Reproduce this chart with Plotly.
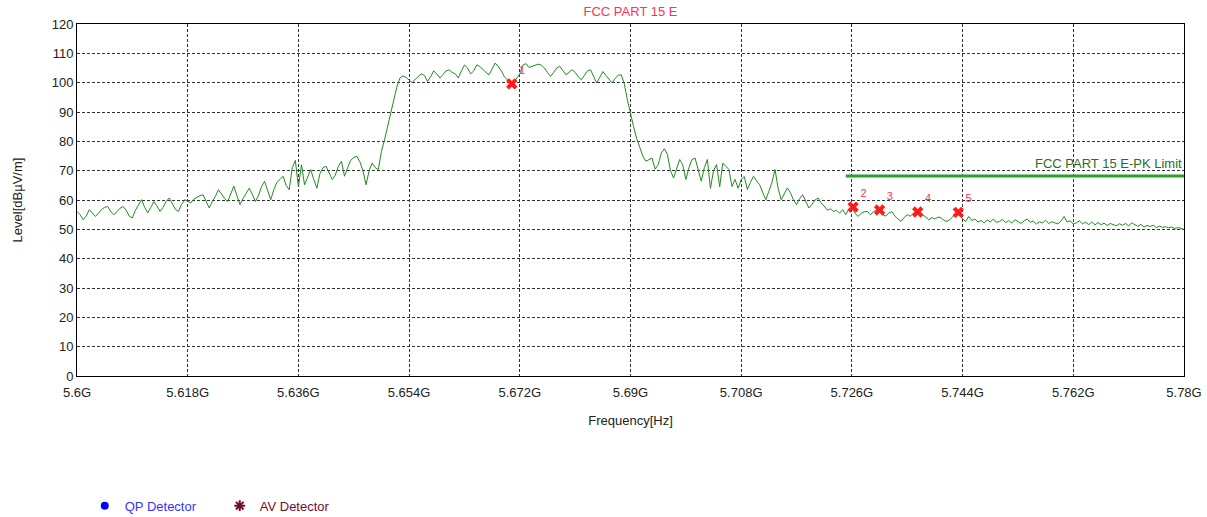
import numpy as np
import plotly.graph_objects as go

# sweep 5.6 GHz .. 5.78 GHz, one reading every 0.5 MHz
f_start = 5.6e9
f_stop = 5.78e9

level = [
    56.1, 55.0, 53.3, 54.5, 56.7, 55.5, 54.4, 55.5, 56.8, 57.5, 57.8, 56.0, 55.0, 56.0, 57.2, 57.8, 56.5, 54.5, 53.9, 56.5,
    58.5, 60.1, 57.5, 55.6, 57.5, 59.5, 58.0, 56.1, 57.5, 59.5, 60.7, 58.5, 56.8, 56.1, 58.5, 60.1, 59.5, 59.0, 60.3, 61.0,
    61.5, 61.8, 59.5, 57.3, 59.5, 61.2, 63.5, 62.0, 60.5, 59.5, 62.0, 64.7, 61.5, 58.4, 60.5, 62.5, 64.0, 62.0, 59.5, 61.5,
    64.5, 66.4, 63.0, 60.1, 63.5, 66.0, 67.0, 68.1, 65.0, 63.5, 71.0, 73.5, 64.5, 72.0, 65.2, 68.0, 70.4, 67.0, 64.0, 69.0,
    71.0, 71.5, 69.5, 67.0, 68.5, 71.5, 73.2, 68.1, 71.0, 73.5, 74.5, 74.9, 73.0, 70.0, 65.2, 70.0, 72.6, 71.0, 70.4, 76.6,
    80.5, 85.0, 89.0, 94.0, 98.5, 101.6, 102.3, 101.8, 101.0, 100.0, 101.2, 102.1, 103.0, 102.5, 100.4, 102.0, 104.0, 103.0, 101.6, 102.8,
    104.0, 104.4, 103.5, 103.0, 101.6, 104.0, 106.0, 105.0, 103.0, 104.0, 106.1, 105.5, 104.4, 103.5, 102.7, 105.0, 106.7, 105.5, 104.0, 102.0,
    101.0, 99.8, 100.0, 101.5, 103.0, 106.0, 106.5, 105.2, 105.5, 106.0, 106.3, 106.0, 105.0, 103.5, 102.1, 103.5, 105.0, 105.6, 104.0, 102.7,
    103.5, 104.4, 103.5, 102.0, 101.0, 102.5, 104.0, 104.4, 102.0, 99.9, 101.8, 103.8, 102.5, 101.0, 99.9, 101.5, 102.5, 102.7, 99.5, 94.0,
    89.0, 85.0, 81.0, 78.3, 75.0, 73.2, 73.8, 74.3, 70.5, 72.0, 76.0, 77.5, 75.5, 70.0, 67.5, 71.0, 73.8, 72.0, 67.0, 71.0,
    73.8, 74.3, 70.5, 66.4, 71.0, 73.8, 64.0, 70.0, 72.1, 64.5, 72.6, 71.5, 70.4, 64.6, 67.0, 64.0, 67.0, 68.0, 63.6, 66.0,
    68.1, 66.5, 65.2, 62.5, 60.1, 63.0, 66.0, 70.4, 64.0, 60.1, 62.0, 64.1, 62.5, 60.0, 58.4, 60.5, 61.8, 59.5, 57.3, 58.5,
    60.0, 60.7, 59.0, 57.9, 56.5, 57.0, 56.1, 56.5, 55.5, 56.7, 55.0, 57.0, 57.5, 55.5, 54.4, 55.5, 56.0, 56.1, 55.0, 56.0,
    56.7, 56.5, 55.0, 54.5, 55.6, 56.0, 54.5, 53.5, 52.7, 54.0, 55.0, 54.5, 55.5, 56.0, 56.1, 55.0, 54.0, 53.3, 54.0, 53.5,
    54.2, 53.9, 53.0, 52.7, 53.5, 54.5, 55.0, 55.6, 53.5, 52.7, 54.4, 53.0, 53.5, 52.5, 53.0, 52.2, 53.2, 52.5, 53.5, 52.4,
    52.7, 53.4, 52.3, 53.0, 52.1, 53.3, 52.7, 52.0, 52.9, 53.5, 52.4, 52.8, 51.8, 52.6, 52.2, 53.1, 52.0, 52.6, 52.2, 51.9,
    52.8, 54.4, 52.5, 52.9, 51.8, 52.2, 52.9, 51.9, 52.4, 51.6, 52.5, 51.5, 52.3, 51.6, 52.1, 51.3, 52.0, 51.6, 51.2, 51.9,
    51.4, 52.0, 51.2, 52.2, 51.5, 51.0, 51.7, 50.8, 51.3, 51.0, 51.4, 50.6, 51.1, 50.7, 50.9, 50.5, 50.8, 50.3, 50.6, 50.2,
    50.0,
]
freq = np.linspace(f_start, f_stop, len(level))

# peak limit, restricted band edge
limit_freq = [5.725e9, 5.78e9]
limit_level = [68.2, 68.2]

# marked peaks
mark_freq = [5.6707e9, 5.7262e9, 5.7305e9, 5.7367e9, 5.7433e9]
mark_level = [99.6, 57.6, 56.6, 55.9, 55.8]
mark_no = ["1", "2", "3", "4", "5"]

xtick_vals = [5.6e9 + i * 0.018e9 for i in range(11)]
xtick_text = ["5.6G", "5.618G", "5.636G", "5.654G", "5.672G", "5.69G",
              "5.708G", "5.726G", "5.744G", "5.762G", "5.78G"]

fig = go.Figure()

fig.add_trace(go.Scatter(x=freq, y=level, mode="lines",
                         line=dict(color="#228B22", width=1),
                         showlegend=False, hoverinfo="skip"))

fig.add_trace(go.Scatter(x=limit_freq, y=limit_level, mode="lines",
                         line=dict(color="#2ca02c", width=3),
                         showlegend=False))

fig.add_trace(go.Scatter(x=mark_freq, y=mark_level, mode="markers+text",
                         marker=dict(symbol="x", size=10, color="#ff1a1a"),
                         text=mark_no, textposition="top right",
                         textfont=dict(color="#ff3050", size=11),
                         showlegend=False))

# legend-only entries
fig.add_trace(go.Scatter(x=[None], y=[None], mode="markers",
                         marker=dict(symbol="circle", size=8, color="#0000ff"),
                         name="<span style='color:#3333ff'>QP Detector</span>"))
fig.add_trace(go.Scatter(x=[None], y=[None], mode="markers",
                         marker=dict(symbol="asterisk-open", size=9, color="#7a0a2a",
                                     line=dict(color="#7a0a2a", width=2)),
                         name="<span style='color:#7a0a2a'>AV Detector</span>"))

fig.add_annotation(x=f_stop, y=68.2, text="FCC PART 15 E-PK Limit",
                   showarrow=False, xanchor="right", yanchor="bottom",
                   yshift=3, font=dict(color="#2e6b1f", size=13))

fig.update_layout(
    width=1207, height=517,
    margin=dict(l=77, r=23, t=24, b=141, autoexpand=False),
    paper_bgcolor="white", plot_bgcolor="white",
    font=dict(family="Liberation Sans, Arial", size=13, color="#222"),
    title=dict(text="FCC PART 15 E", x=0.5, xref="paper", y=0.977,
               yanchor="middle", font=dict(color="#ff3355", size=13)),
    legend=dict(orientation="h", x=0.007, xanchor="left", y=-0.326,
                yanchor="top", font=dict(size=13), entrywidth=90),
)

fig.update_xaxes(range=[f_start, f_stop], tickvals=xtick_vals, ticktext=xtick_text,
                 showline=True, linecolor="black", linewidth=1, mirror=True,
                 showgrid=True, gridcolor="#333", gridwidth=1, griddash="3px,2px",
                 zeroline=False, ticks="", ticklabelstandoff=4,
                 title=dict(text="Frequency[Hz]", standoff=17, font=dict(size=13)))
fig.update_yaxes(range=[0, 120], dtick=10,
                 showline=True, linecolor="black", linewidth=1, mirror=True,
                 showgrid=True, gridcolor="#333", gridwidth=1, griddash="3px,2px",
                 zeroline=False, ticks="",
                 title=dict(text="Level[dBµV/m]", standoff=26, font=dict(size=13)))

fig.write_html("out.html", config={"displayModeBar": False},
               post_script="document.body.style.margin='0px';document.body.style.overflow='hidden';")
